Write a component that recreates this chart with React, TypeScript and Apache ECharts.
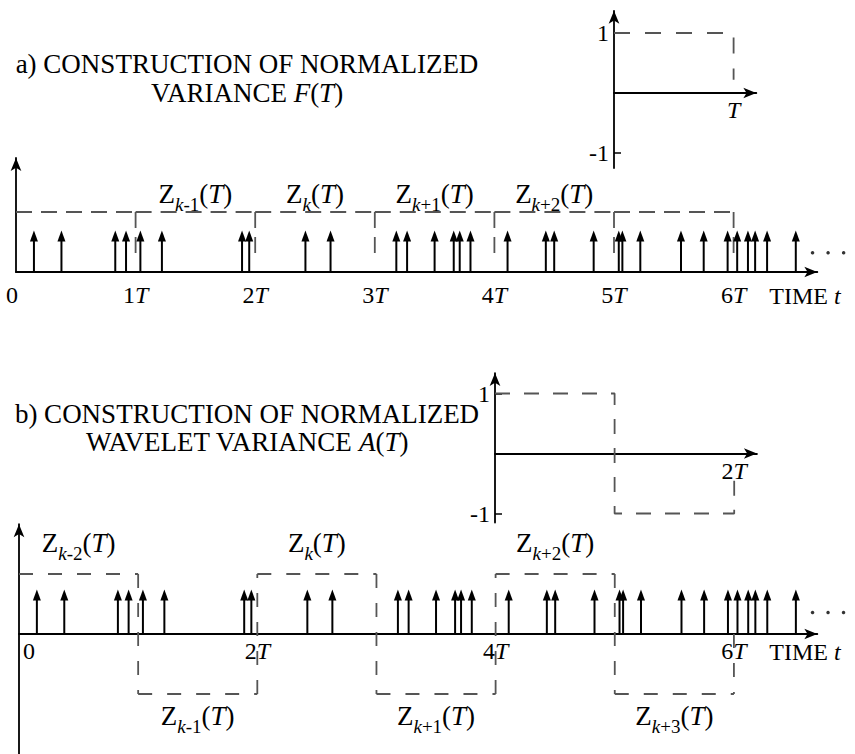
import React, { useEffect, useRef } from 'react';
import * as echarts from 'echarts';

// ---------- data ----------
const EVENT_TIMES = [
  0.15, 0.38, 0.83, 0.92, 1.04, 1.22, 1.89, 1.95, 2.42, 2.63, 3.18, 3.27, 3.5, 3.66, 3.71, 3.8,
  4.11, 4.43, 4.5, 4.83, 5.04, 5.07, 5.22, 5.56, 5.75, 5.95, 6.03, 6.12, 6.18, 6.28, 6.52,
];
const TOP_TICKS = [0, 1, 2, 3, 4, 5, 6];
const BOTTOM_TICKS = [0, 2, 4, 6];
const A_WINDOW_STARTS = [0, 1, 2, 3, 4, 5];
const A_LABEL_CENTERS = [1.5, 2.5, 3.5, 4.5];
const A_LABEL_SUBS = ['-1', '', '+1', '+2'];
const B_WINDOW_STARTS = [0, 1, 2, 3, 4, 5];
const B_WINDOW_SIGNS = [1, -1, 1, -1, 1, -1];
const B_LABEL_CENTERS = [0.5, 1.5, 2.5, 3.5, 4.5, 5.5];
const B_LABEL_SUBS = ['-2', '-1', '', '+1', '+2', '+3'];
const ELLIPSIS_TIMES = [6.66, 6.79, 6.92];
const INSET_A_PATH = [[0, 1], [1, 1], [1, 0.22]];
const INSET_B_PATH = [[0, 1], [1, 1], [1, -1], [2, -1], [2, -0.27]];
const INSET_Y_TICKS = [-1, 1];

// ---------- style / layout ----------
const SERIF = 'Liberation Serif, Times New Roman, serif';
const DASH = '#555555';
const PX_T = 119.6;
const PX_U = 60;
const A_ARROW_H = 0.69;
const B_ARROW_H = 0.74;
const A_STUB = 0.25;

const grid = (left: number, zeroY: number, xMax: number, yMin: number, yMax: number) => ({
  left,
  top: zeroY - yMax * PX_U,
  width: xMax * PX_T,
  height: (yMax - yMin) * PX_U,
});

const GRIDS = [
  { g: grid(16, 272, 6.7, 0, 1.9), xMax: 6.7, yMin: 0, yMax: 1.9 },
  { g: grid(16, 634, 6.7, -2, 1.83), xMax: 6.7, yMin: -2, yMax: 1.83 },
  { g: grid(614, 93, 1.19, -1.25, 1.37), xMax: 1.19, yMin: -1.25, yMax: 1.37 },
  { g: grid(495, 453.5, 2.19, -1.15, 1.34), xMax: 2.19, yMin: -1.15, yMax: 1.34 },
];

const axisLine = () => ({
  show: true,
  onZero: false,
  symbol: ['none', 'arrow'],
  symbolSize: [8, 13],
  lineStyle: { color: '#000', width: 1.8 },
});

const labelRich = {
  n: { fontFamily: SERIF, fontSize: 24, color: '#000', lineHeight: 26 },
  i: { fontFamily: SERIF, fontSize: 24, color: '#000', fontStyle: 'italic', lineHeight: 26 },
  zl: { fontFamily: SERIF, fontSize: 24, color: '#000', lineHeight: 26, padding: [0, 8, 0, 0] },
  zr: { fontFamily: SERIF, fontSize: 24, color: '#000', lineHeight: 26, padding: [0, 0, 0, 20] },
};

const zRich = {
  z: { fontFamily: SERIF, fontSize: 27, lineHeight: 40, fill: '#000' },
  zi: { fontFamily: SERIF, fontSize: 27, lineHeight: 40, fontStyle: 'italic', fill: '#000' },
  sk: { fontFamily: SERIF, fontSize: 19, lineHeight: 18, fontStyle: 'italic', verticalAlign: 'bottom', fill: '#000' },
  sn: { fontFamily: SERIF, fontSize: 19, lineHeight: 18, verticalAlign: 'bottom', fill: '#000' },
};
const zText = (sub: string) => `{z|Z}{sk|k}${sub ? `{sn|${sub}}` : ''}{z|(}{zi|T}{z|)}`;

const titleRich = (lh: number) => ({
  n: { fontFamily: SERIF, fontSize: 27, lineHeight: lh, fill: '#000' },
  i: { fontFamily: SERIF, fontSize: 27, lineHeight: lh, fontStyle: 'italic', fill: '#000' },
});

const dashA = { stroke: DASH, lineWidth: 1.8, lineDash: [16, 9], fill: 'none' };
const dashB = { stroke: DASH, lineWidth: 1.8, lineDash: [14, 15], fill: 'none' };

const arrowItem = (_params: any, api: any) => {
  const t = api.value(0);
  const base = api.coord([t, 0]);
  const tip = api.coord([t, api.value(1)]);
  return {
    type: 'group',
    children: [
      { type: 'line', shape: { x1: base[0], y1: base[1], x2: tip[0], y2: tip[1] + 6 }, style: { stroke: '#000', lineWidth: 2 } },
      {
        type: 'polygon',
        shape: { points: [[tip[0], tip[1]], [tip[0] - 4, tip[1] + 11], [tip[0] + 4, tip[1] + 11]] },
        style: { fill: '#000' },
      },
    ],
  };
};

const windowAItem = (params: any, api: any) => {
  const i = params.dataIndex;
  const s = A_WINDOW_STARTS[i];
  const children: any[] = [];
  if (i > 0) {
    const a = api.coord([s, 1]);
    const b = api.coord([s, A_STUB]);
    children.push({ type: 'line', shape: { x1: a[0], y1: a[1], x2: b[0], y2: b[1] }, style: dashA });
  }
  const p = api.coord([s, 1]);
  const q = api.coord([s + 1, 1]);
  children.push({ type: 'line', shape: { x1: p[0], y1: p[1], x2: q[0], y2: q[1] }, style: dashA });
  if (i === A_WINDOW_STARTS.length - 1) {
    const b = api.coord([s + 1, A_STUB]);
    children.push({ type: 'line', shape: { x1: q[0], y1: q[1], x2: b[0], y2: b[1] }, style: dashA });
  }
  return { type: 'group', children };
};

const windowBItem = (params: any, api: any) => {
  const i = params.dataIndex;
  const s = B_WINDOW_STARTS[i];
  const sign = B_WINDOW_SIGNS[i];
  const children: any[] = [];
  if (i > 0) {
    const a = api.coord([s, B_WINDOW_SIGNS[i - 1]]);
    const b = api.coord([s, sign]);
    children.push({ type: 'line', shape: { x1: a[0], y1: a[1], x2: b[0], y2: b[1] }, style: dashB });
  }
  const p = api.coord([s, sign]);
  const q = api.coord([s + 1, sign]);
  children.push({ type: 'line', shape: { x1: p[0], y1: p[1], x2: q[0], y2: q[1] }, style: dashB });
  if (i === B_WINDOW_STARTS.length - 1) {
    const b = api.coord([s + 1, 0]);
    children.push({ type: 'line', shape: { x1: b[0], y1: b[1], x2: q[0], y2: q[1] }, style: dashB });
  }
  return { type: 'group', children };
};

const labelAItem = (params: any, api: any) => {
  const p = api.coord([api.value(0), api.value(1)]);
  return {
    type: 'text',
    x: p[0],
    y: p[1] - 18,
    style: { text: zText(A_LABEL_SUBS[params.dataIndex]), rich: zRich, align: 'center', verticalAlign: 'middle' },
  };
};

const labelBItem = (params: any, api: any) => {
  const p = api.coord([api.value(0), api.value(1)]);
  const up = api.value(1) > 0;
  return {
    type: 'text',
    x: p[0],
    y: p[1] + (up ? -31 : 22),
    style: { text: zText(B_LABEL_SUBS[params.dataIndex]), rich: zRich, align: 'center', verticalAlign: 'middle' },
  };
};

export default function App() {
  const ref = useRef<HTMLDivElement>(null);

  useEffect(() => {
    if (!ref.current) return;
    const chart = echarts.init(ref.current, undefined, { renderer: 'svg' });

    const xAxes: any[] = GRIDS.map((gr, idx) => ({
      type: 'value',
      gridIndex: idx,
      position: 'bottom',
      // place the horizontal axis on the zero level of its own y-axis
      offset: gr.yMin * PX_U,
      min: 0,
      max: gr.xMax,
      axisLine: axisLine(),
      axisTick: { show: false },
      splitLine: { show: false },
      axisLabel: { show: false },
    }));
    xAxes[0].axisLabel = {
      show: true,
      customValues: TOP_TICKS,
      margin: 10,
      formatter: (v: number) => (v === 0 ? '{zl|0}' : `{n|${v}}{i|T}`),
      rich: labelRich,
    };
    xAxes[0].name = '{n|TIME }{i|t}';
    xAxes[0].nameLocation = 'end';
    xAxes[0].nameGap = -48;
    xAxes[0].nameTextStyle = { verticalAlign: 'middle', align: 'left', padding: [48, 0, 0, 0], rich: labelRich };
    xAxes[1].axisLabel = {
      show: true,
      customValues: BOTTOM_TICKS,
      margin: 4,
      formatter: (v: number) => (v === 0 ? '{zr|0}' : `{n|${v}}{i|T}`),
      rich: labelRich,
    };
    xAxes[1].name = '{n|TIME }{i|t}';
    xAxes[1].nameLocation = 'end';
    xAxes[1].nameGap = -48;
    xAxes[1].nameTextStyle = { verticalAlign: 'middle', align: 'left', padding: [36, 0, 0, 0], rich: labelRich };
    xAxes[2].axisLabel = { show: true, customValues: [1], margin: 4, formatter: () => '{i|T}', rich: labelRich };
    xAxes[3].axisLabel = { show: true, customValues: [2], margin: 4, formatter: () => '{n|2}{i|T}', rich: labelRich };

    const yAxes: any[] = GRIDS.map((gr, idx) => ({
      type: 'value',
      gridIndex: idx,
      min: gr.yMin,
      max: gr.yMax,
      axisLine: axisLine(),
      axisTick: { show: false },
      splitLine: { show: false },
      axisLabel: { show: false },
    }));
    [2, 3].forEach((k) => {
      yAxes[k].axisTick = { show: true, inside: true, length: 7, customValues: INSET_Y_TICKS, lineStyle: { color: '#000', width: 1.5 } };
      yAxes[k].axisLabel = {
        show: true,
        customValues: INSET_Y_TICKS,
        margin: 5,
        formatter: (v: number) => `{n|${v}}`,
        rich: labelRich,
      };
    });

    const option: any = {
      animation: false,
      backgroundColor: '#ffffff',
      grid: GRIDS.map((gr) => ({ ...gr.g, containLabel: false })),
      xAxis: xAxes,
      yAxis: yAxes,
      graphic: [
        {
          type: 'text',
          x: 247,
          y: 49,
          style: {
            text: '{n|a) CONSTRUCTION OF NORMALIZED}\n{n|VARIANCE }{i|F}{n|(}{i|T}{n|)}',
            rich: titleRich(29),
            align: 'center',
            verticalAlign: 'top',
          },
        },
        {
          type: 'text',
          x: 247,
          y: 400,
          style: {
            text: '{n|b) CONSTRUCTION OF NORMALIZED}\n{n|WAVELET VARIANCE }{i|A}{n|(}{i|T}{n|)}',
            rich: titleRich(28),
            align: 'center',
            verticalAlign: 'top',
          },
        },
      ],
      series: [
        { type: 'custom', xAxisIndex: 0, yAxisIndex: 0, renderItem: windowAItem, data: A_WINDOW_STARTS.map((s) => [s, 1]), z: 2 },
        { type: 'custom', xAxisIndex: 1, yAxisIndex: 1, renderItem: windowBItem, data: B_WINDOW_STARTS.map((s, i) => [s, B_WINDOW_SIGNS[i]]), z: 2 },
        { type: 'custom', xAxisIndex: 0, yAxisIndex: 0, renderItem: arrowItem, data: EVENT_TIMES.map((t) => [t, A_ARROW_H]), z: 3 },
        { type: 'custom', xAxisIndex: 1, yAxisIndex: 1, renderItem: arrowItem, data: EVENT_TIMES.map((t) => [t, B_ARROW_H]), z: 3 },
        { type: 'custom', xAxisIndex: 0, yAxisIndex: 0, renderItem: labelAItem, data: A_LABEL_CENTERS.map((c) => [c, 1]), z: 4 },
        {
          type: 'custom',
          xAxisIndex: 1,
          yAxisIndex: 1,
          renderItem: labelBItem,
          data: B_LABEL_CENTERS.map((c, i) => [c, B_WINDOW_SIGNS[i]]),
          z: 4,
        },
        {
          type: 'scatter',
          xAxisIndex: 0,
          yAxisIndex: 0,
          clip: false,
          symbolSize: 3.5,
          itemStyle: { color: '#000' },
          data: ELLIPSIS_TIMES.map((t) => [t, 0.32]),
        },
        {
          type: 'scatter',
          xAxisIndex: 1,
          yAxisIndex: 1,
          clip: false,
          symbolSize: 3.5,
          itemStyle: { color: '#000' },
          data: ELLIPSIS_TIMES.map((t) => [t, 0.36]),
        },
        {
          type: 'line',
          xAxisIndex: 2,
          yAxisIndex: 2,
          symbol: 'none',
          data: INSET_A_PATH,
          lineStyle: { color: DASH, width: 1.8, type: [16, 15] },
        },
        {
          type: 'line',
          xAxisIndex: 3,
          yAxisIndex: 3,
          symbol: 'none',
          data: INSET_B_PATH,
          lineStyle: { color: DASH, width: 1.8, type: [15, 14] },
        },
      ],
    };

    chart.setOption(option);
    return () => chart.dispose();
  }, []);

  return (
    <div
      ref={ref}
      style={{ position: 'fixed', left: 0, top: 0, width: 855, height: 754, background: '#fff' }}
    />
  );
}
